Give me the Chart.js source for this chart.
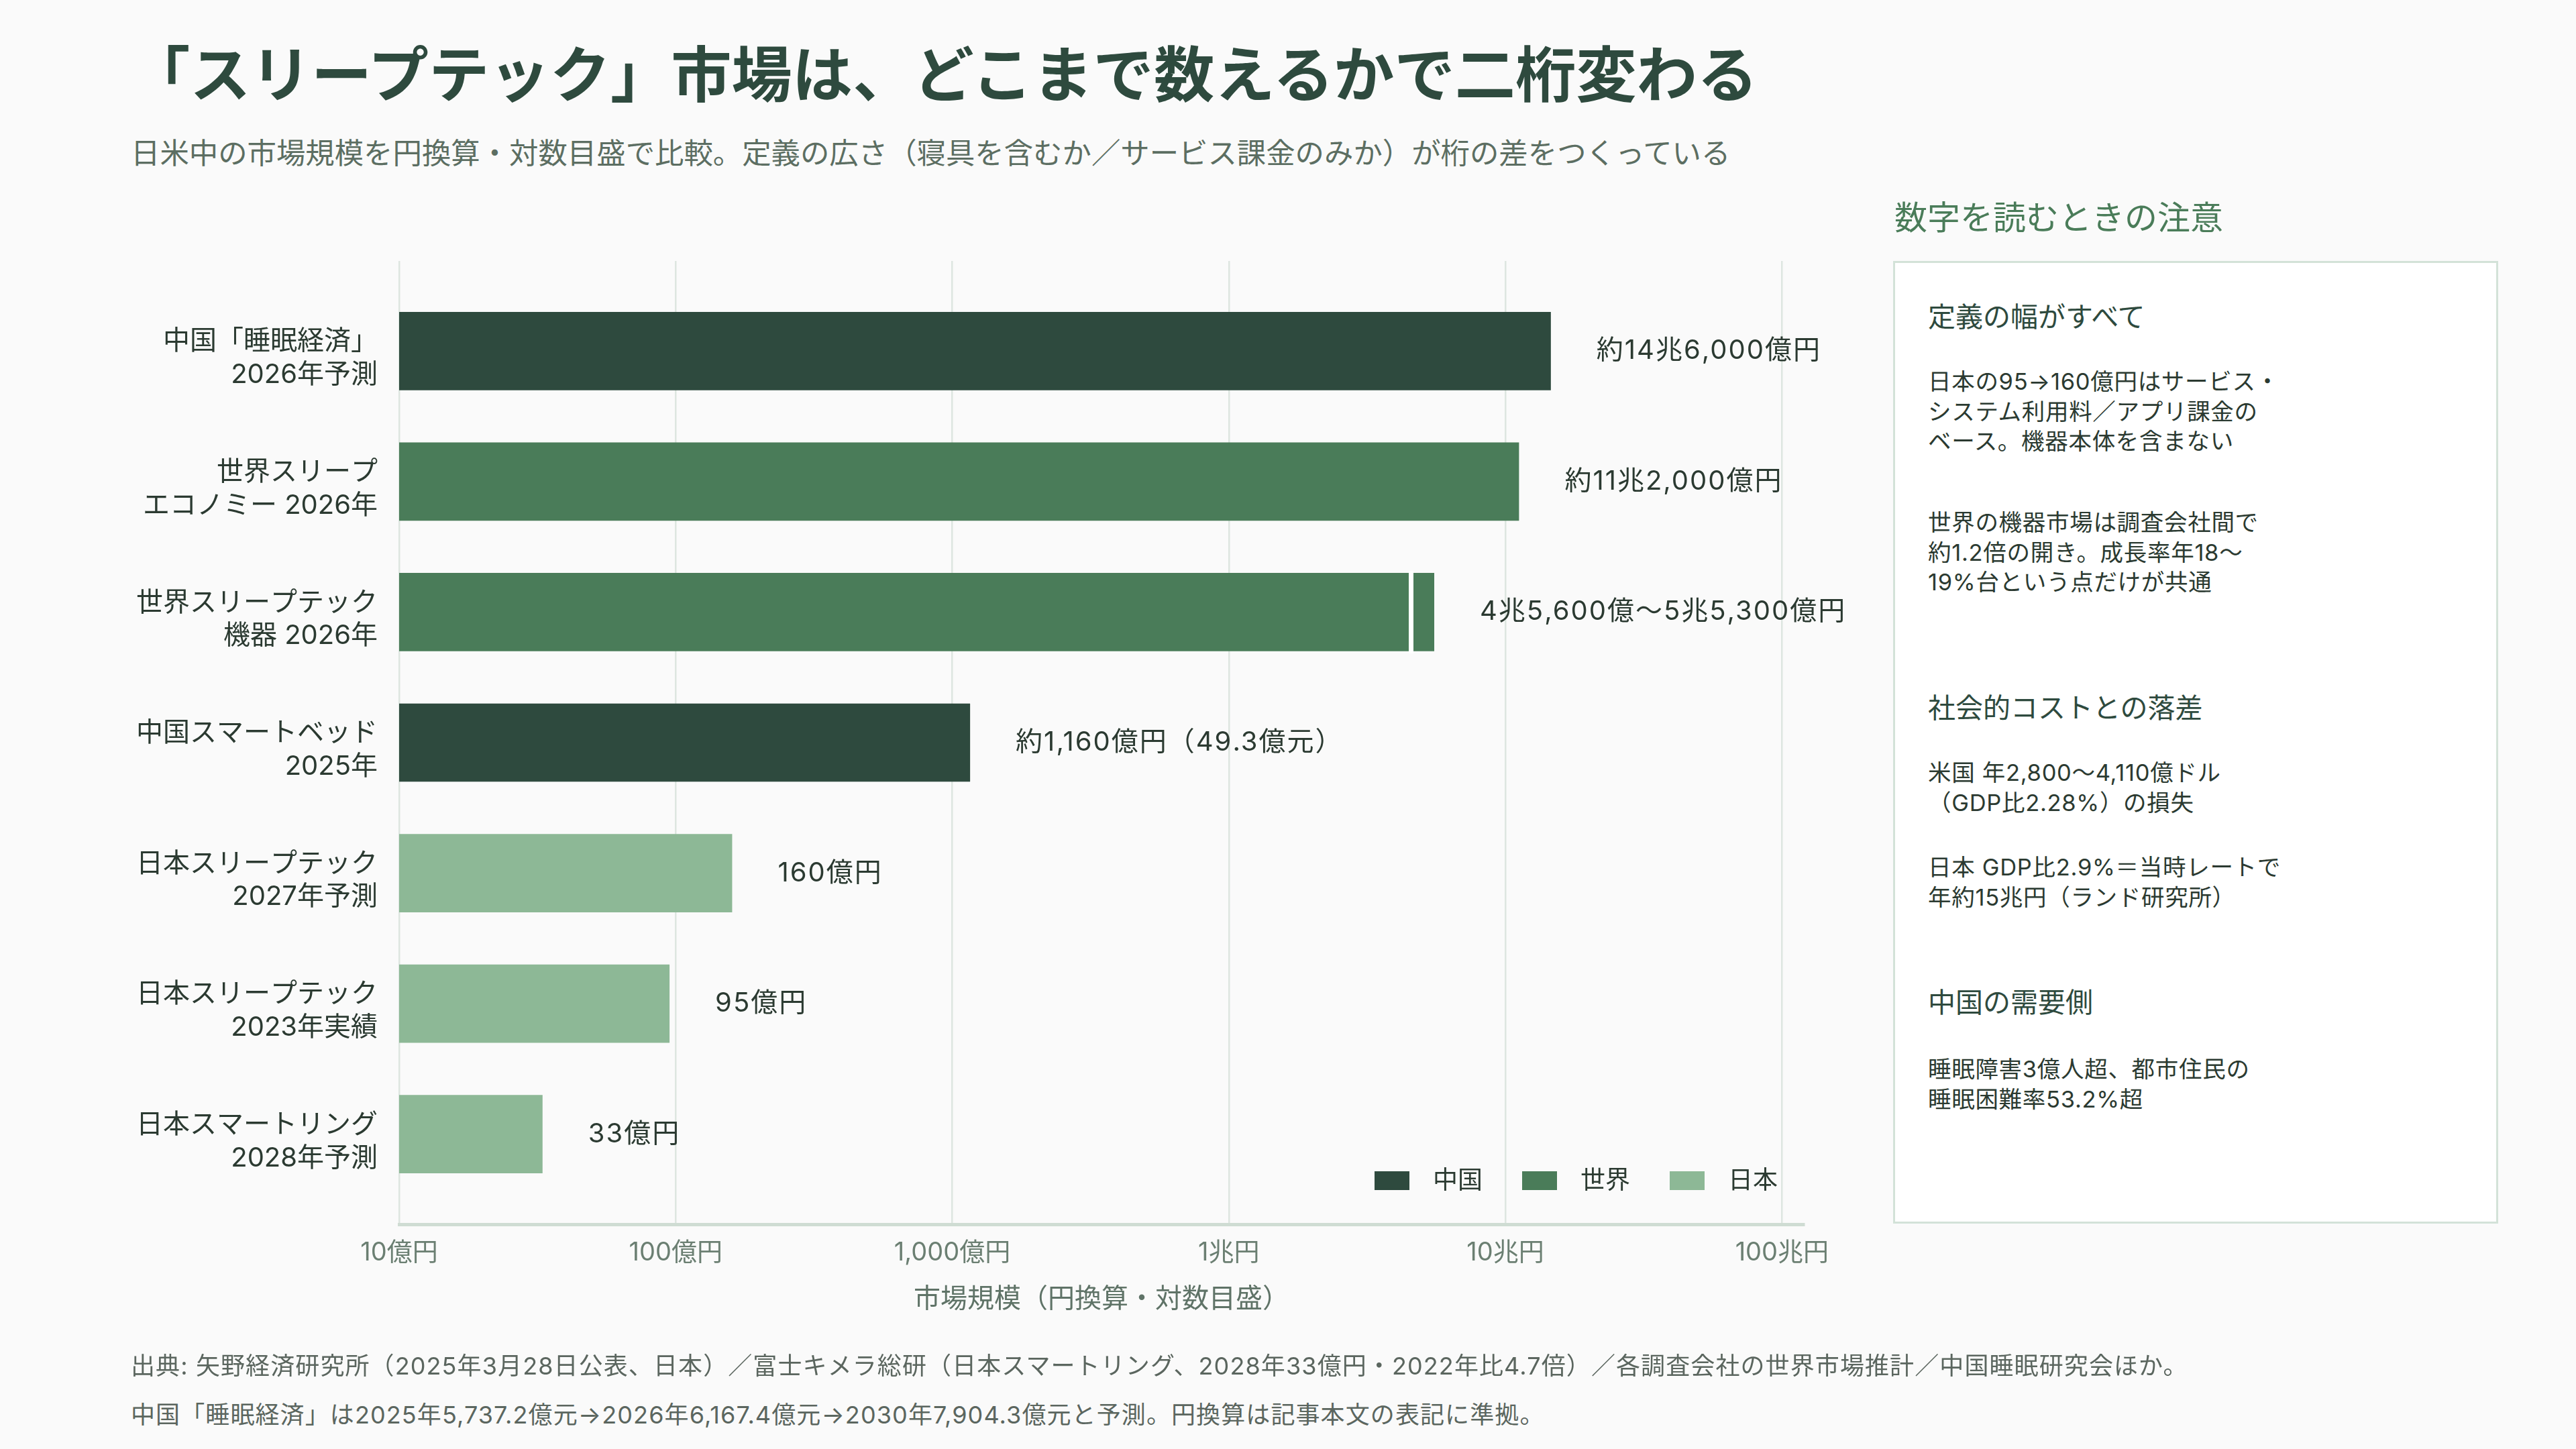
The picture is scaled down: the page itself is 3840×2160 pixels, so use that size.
<!DOCTYPE html>
<html lang="ja">
<head>
<meta charset="utf-8">
<script src="https://cdn.jsdelivr.net/npm/chart.js@4.4.1/dist/chart.umd.min.js"></script>
<style>
  html, body { margin: 0; padding: 0; }
  body {
    width: 3840px; height: 2160px; position: relative; overflow: hidden;
    background: #fafafa; font-family: Inter, "Noto Sans CJK JP", sans-serif; color: #2b3a31;
  }
  .abs { position: absolute; white-space: nowrap; }
  #title { left: 193px; top: 62px; font-size: 90.3px; line-height: 100px; font-weight: 700; color: #2e4a3e; }
  #subtitle { left: 195px; top: 203px; font-size: 43.4px; line-height: 50px; color: #5c6e62; }
  #chartBox { left: 0; top: 360px; width: 2760px; height: 1700px; }
  #panelTitle { left: 2824px; top: 297px; font-size: 49px; line-height: 56px; color: #4a7c59; }
  #panel { left: 2822px; top: 389px; width: 896px; height: 1429px; border: 3px solid #d3e2d8; background: #ffffff; }
  .ph { position: absolute; left: 49px; font-size: 41px; line-height: 48px; color: #2e4a3e; white-space: nowrap; }
  .pb { position: absolute; left: 49px; font-size: 34.5px; line-height: 44.5px; color: #2b3a31; white-space: nowrap; letter-spacing: 0.7px; }
  .foot { left: 195px; font-size: 36px; line-height: 44px; color: #5b665f; letter-spacing: 1.1px; }
</style>
</head>
<body>
<div class="abs" id="title">「スリープテック」市場は、どこまで数えるかで二桁変わる</div>
<div class="abs" id="subtitle">日米中の市場規模を円換算・対数目盛で比較。定義の広さ（寝具を含むか／サービス課金のみか）が桁の差をつくっている</div>

<div class="abs" id="chartBox"><canvas id="myChart"></canvas></div>

<div class="abs" id="panelTitle">数字を読むときの注意</div>
<div class="abs" id="panel">
  <div class="ph" style="top:56px">定義の幅がすべて</div>
  <div class="pb" style="top:155px">日本の95→160億円はサービス・<br>システム利用料／アプリ課金の<br>ベース。機器本体を含まない</div>
  <div class="pb" style="top:365px">世界の機器市場は調査会社間で<br>約1.2倍の開き。成長率年18〜<br>19%台という点だけが共通</div>
  <div class="ph" style="top:639px">社会的コストとの落差</div>
  <div class="pb" style="top:738px">米国 年2,800〜4,110億ドル<br>（GDP比2.28%）の損失</div>
  <div class="pb" style="top:879px">日本 GDP比2.9%＝当時レートで<br>年約15兆円（ランド研究所）</div>
  <div class="ph" style="top:1078px">中国の需要側</div>
  <div class="pb" style="top:1180px">睡眠障害3億人超、都市住民の<br>睡眠困難率53.2%超</div>
</div>

<div class="abs foot" style="top:2014px">出典: 矢野経済研究所（2025年3月28日公表、日本）／富士キメラ総研（日本スマートリング、2028年33億円・2022年比4.7倍）／各調査会社の世界市場推計／中国睡眠研究会ほか。</div>
<div class="abs foot" style="top:2087px">中国「睡眠経済」は2025年5,737.2億元→2026年6,167.4億元→2030年7,904.3億元と予測。円換算は記事本文の表記に準拠。</div>

<script>
// categories (two-line labels), values in 億円
const categories = [
  ["中国「睡眠経済」", "2026年予測"],
  ["世界スリープ", "エコノミー 2026年"],
  ["世界スリープテック", "機器 2026年"],
  ["中国スマートベッド", "2025年"],
  ["日本スリープテック", "2027年予測"],
  ["日本スリープテック", "2023年実績"],
  ["日本スマートリング", "2028年予測"]
];
const regions = ["中国", "世界", "世界", "中国", "日本", "日本", "日本"];
const values = [146000, 112000, 55300, 1160, 160, 95, 33];
// low end of a range estimate (white marker inside the bar)
const rangeLow = [null, null, 45600, null, null, null, null];
const valueLabels = [
  "約14兆6,000億円",
  "約11兆2,000億円",
  "4兆5,600億〜5兆5,300億円",
  "約1,160億円（49.3億元）",
  "160億円",
  "95億円",
  "33億円"
];
const tickValues = [10, 100, 1000, 10000, 100000, 1000000];
const tickLabels = ["10億円", "100億円", "1,000億円", "1兆円", "10兆円", "100兆円"];

const legendNames = ["中国", "世界", "日本"];
const regionColors = { "中国": "#2e4a3e", "世界": "#4a7c59", "日本": "#8db896" };

const FONT = "Inter, 'Noto Sans CJK JP', sans-serif";

// value labels + range marker
const barLabels = {
  id: "barLabels",
  afterDatasetsDraw(chart) {
    const ctx = chart.ctx;
    const xs = chart.scales.x;
    const meta = chart.getDatasetMeta(0);
    ctx.save();
    meta.data.forEach((bar, i) => {
      const h = bar.height;
      if (rangeLow[i] != null) {
        const mx = xs.getPixelForValue(rangeLow[i]);
        ctx.fillStyle = "#ffffff";
        ctx.fillRect(mx - 3.5, bar.y - h / 2 - 3, 7, h + 6);
      }
      ctx.fillStyle = "#2b3a31";
      ctx.font = "40px " + FONT;
      ctx.letterSpacing = "2px";
      ctx.textAlign = "left";
      ctx.textBaseline = "middle";
      ctx.fillText(valueLabels[i], bar.x + 68, bar.y);
    });
    ctx.restore();
  }
};

// legend drawn inside the plot, bottom right
const innerLegend = {
  id: "innerLegend",
  afterDraw(chart) {
    const ctx = chart.ctx;
    const area = chart.chartArea;
    ctx.save();
    ctx.font = "37px " + FONT;
    ctx.textBaseline = "middle";
    const boxW = 52, boxH = 28, gapText = 35, gapItem = 59;
    let total = 0;
    legendNames.forEach((n, i) => {
      total += boxW + gapText + ctx.measureText(n).width + (i < legendNames.length - 1 ? gapItem : 0);
    });
    let x = area.right - 39 - total;
    const y = area.bottom - 65;
    legendNames.forEach((n) => {
      ctx.fillStyle = regionColors[n];
      ctx.fillRect(x, y - boxH / 2, boxW, boxH);
      x += boxW + gapText;
      ctx.fillStyle = "#2b3a31";
      ctx.fillText(n, x, y + 1);
      x += ctx.measureText(n).width + gapItem;
    });
    ctx.restore();
  }
};

const ctx = document.getElementById("myChart");
const myChart = new Chart(ctx, {
  type: "bar",
  data: {
    datasets: [
      {
        label: "市場規模",
        data: values.map((v, i) => ({ x: v, y: i })),
        backgroundColor: regions.map((r) => regionColors[r]),
        borderWidth: 0,
        barPercentage: 0.6,
        categoryPercentage: 1.0
      }
    ]
  },
  options: {
    indexAxis: "y",
    responsive: true,
    maintainAspectRatio: false,
    animation: false,
    layout: { padding: { top: 29, right: 71, left: 0, bottom: 0 } },
    scales: {
      x: {
        type: "logarithmic",
        min: 10,
        max: 1200000,
        afterBuildTicks: (scale) => {
          scale.ticks = tickValues.map((v) => ({ value: v }));
        },
        afterFit: (scale) => {
          scale.height = 235;
        },
        ticks: {
          padding: 20,
          color: "#6b7f72",
          font: { size: 38, family: FONT },
          callback: (value) => {
            const k = tickValues.indexOf(value);
            return k >= 0 ? tickLabels[k] : "";
          }
        },
        grid: { color: "#dde6e0", lineWidth: 2.5, drawTicks: false },
        border: { display: true, color: "#cfdcd3", width: 5 },
        title: {
          display: true,
          text: "市場規模（円換算・対数目盛）",
          color: "#5f7367",
          font: { size: 40, family: FONT },
          padding: { top: 0, bottom: 99 }
        }
      },
      y: {
        type: "linear",
        offset: false,
        reverse: true,
        min: -0.69,
        max: 6.69,
        afterBuildTicks: (scale) => {
          scale.ticks = categories.map((c, i) => ({ value: i }));
        },
        afterFit: (scale) => {
          scale.width = 595;
          scale.paddingTop = 0;
          scale.paddingBottom = 0;
        },
        ticks: {
          padding: 24,
          labelOffset: 11,
          color: "#2b3a31",
          font: { size: 40, family: FONT, lineHeight: 1.24 },
          callback: (value) => categories[value] || ""
        },
        grid: { display: false, offset: false },
        border: { display: false }
      }
    },
    plugins: {
      legend: { display: false },
      tooltip: { enabled: false }
    }
  },
  plugins: [barLabels, innerLegend]
});
</script>
</body>
</html>
